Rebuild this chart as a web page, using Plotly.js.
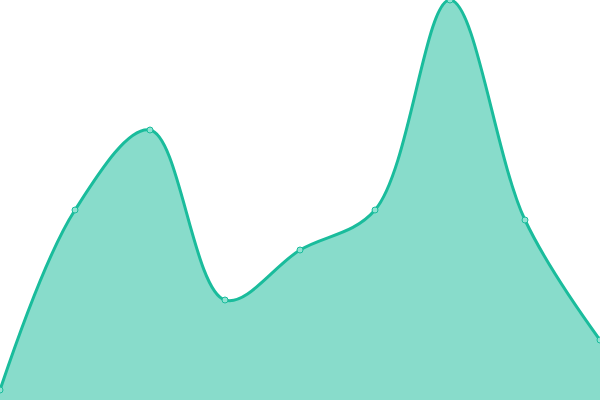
<!DOCTYPE html>
<html>
<head>
<meta charset="utf-8">
<script src="https://cdn.plot.ly/plotly-3.0.1.min.js"></script>
<style>
  html, body { margin: 0; padding: 0; background: #fff; }
  #chart { width: 600px; height: 400px; }
</style>
</head>
<body>
<div id="chart"></div>
<script>
// values
const xs = [0, 1, 2, 3, 4, 5, 6, 7, 8];
const values = [10, 190, 270, 100, 150, 190, 400, 180, 60];

const lineColor = '#1abc9c';

Plotly.newPlot('chart', [{
    x: xs,
    y: values,
    type: 'scatter',
    mode: 'lines+markers',
    fill: 'tozeroy',
    fillcolor: 'rgba(26,188,156,0.52)',
    line: { color: lineColor, width: 3, shape: 'spline', smoothing: 1 },
    marker: { size: 6, color: '#8fe3d2', line: { color: lineColor, width: 1 } },
    cliponaxis: true,
    hoverinfo: 'none'
}], {
    width: 600,
    height: 400,
    margin: { l: 0, r: 0, t: 0, b: 0 },
    paper_bgcolor: '#fff',
    plot_bgcolor: '#fff',
    showlegend: false,
    xaxis: { range: [0, 8], visible: false, fixedrange: true },
    yaxis: { range: [0, 400], visible: false, fixedrange: true }
}, { displayModeBar: false, staticPlot: true });
</script>
</body>
</html>
